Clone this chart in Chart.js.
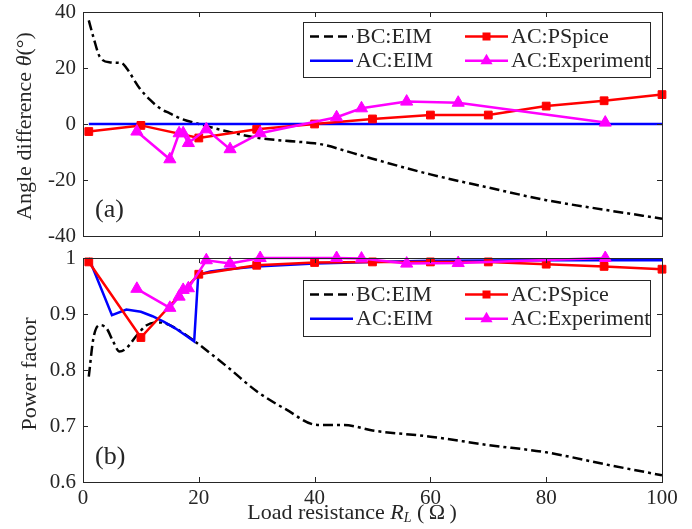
<!DOCTYPE html>
<html>
<head>
<meta charset="utf-8">
<script src="https://cdn.jsdelivr.net/npm/chart.js@4.4.0/dist/chart.umd.min.js"></script>
<style>
html, body { margin: 0; padding: 0; background: #fff; }
#wrap { position: relative; width: 692px; height: 529px; background: #fff; }
.box { position: absolute; left: 0; width: 692px; }
</style>
</head>
<body>
<div id="wrap">
  <div class="box" style="top:0;height:245px"><canvas id="chart_top"></canvas></div>
  <div class="box" style="top:245px;height:284px"><canvas id="chart_bot"></canvas></div>
</div>
<script>
// ---- data ----
var legend_labels = ['BC:EIM', 'AC:EIM', 'AC:PSpice', 'AC:Experiment'];
var x_ticks = [0, 20, 40, 60, 80, 100];

// (a) angle difference
var bc_x_top = [1, 1.8, 2.9, 4.7, 6.7, 7.5, 9.8, 11.6, 13.3, 15, 16.8, 20, 25, 30, 35, 40, 42, 45, 50, 60, 70, 80, 90, 100];
var bc_angle = [37, 31, 24, 22, 21.7, 20, 12.7, 8.6, 5.6, 3.8, 2, 0, -2.7, -4.9, -6, -6.9, -7.6, -9.4, -12.4, -18, -22.7, -27.2, -30.6, -33.8];
var ac_x_top = [1, 100];
var ac_angle = [0, 0];

// shared x for PSpice and experiment
var pspice_x = [1, 10, 20, 30, 40, 50, 60, 70, 80, 90, 100];
var pspice_angle = [-2.7, -0.5, -5, -1.9, 0, 1.8, 3.2, 3.2, 6.4, 8.3, 10.5];
var exp_x = [9.3, 15, 16.6, 17.3, 18.2, 21.3, 25.4, 30.6, 43.8, 48.1, 55.9, 64.8, 90.2];
var exp_angle = [-2.7, -12.6, -3.3, -3.3, -6.8, -1.9, -9, -3.3, 2.4, 5.6, 8, 7.6, 0.5];

// (b) power factor
var bc_x_bot = [1, 1.8, 2.9, 4.1, 5.2, 6.3, 7.5, 9.3, 11, 12.7, 14, 15, 17, 19.2, 25, 30, 35, 40.5, 45, 50, 60, 70, 80, 90, 100];
var bc_pf = [0.788, 0.857, 0.880, 0.874, 0.851, 0.833, 0.839, 0.862, 0.880, 0.885, 0.884, 0.880, 0.868, 0.852, 0.805, 0.762, 0.730, 0.702, 0.702, 0.692, 0.681, 0.666, 0.653, 0.632, 0.612];
var ac_x_bot = [1, 5, 7.5, 10, 12, 14, 16, 18, 19.2, 19.9, 22, 25, 30, 40, 50, 60, 80, 100];
var ac_pf = [1.0, 0.898, 0.908, 0.904, 0.896, 0.886, 0.874, 0.860, 0.851, 0.970, 0.976, 0.980, 0.985, 0.990, 0.993, 0.995, 0.996, 0.996];
var pspice_pf = [0.993, 0.858, 0.971, 0.987, 0.992, 0.993, 0.993, 0.993, 0.989, 0.985, 0.980];
var exp_pf = [0.945, 0.911, 0.931, 0.943, 0.946, 0.996, 0.990, 1.0, 1.0, 0.999, 0.990, 0.991, 1.0];

var SERIF = "'Liberation Serif', 'Times New Roman', serif";
var TXT = '#262626';

function pts(xs, ys) {
	return xs.map(function(x, i) { return {x: x, y: ys[i]}; });
}

function make_sets(bc, ac, ps, ex) {
	return [
		{ label: legend_labels[0], data: bc, borderColor: '#000', borderWidth: 2.5, borderDash: [10, 4, 3, 4],
		  pointRadius: 0, cubicInterpolationMode: 'monotone', order: 4 },
		{ label: legend_labels[1], data: ac, borderColor: '#0000ff', borderWidth: 2.5, pointRadius: 0, order: 3 },
		{ label: legend_labels[2], data: ps, borderColor: '#ff0000', backgroundColor: '#ff0000', borderWidth: 2.5,
		  pointStyle: 'rect', pointRadius: 5.5, pointBorderWidth: 1, order: 2 },
		{ label: legend_labels[3], data: ex, borderColor: '#ff00ff', backgroundColor: '#ff00ff', borderWidth: 2.5,
		  pointStyle: 'triangle', pointRadius: 7, pointBorderWidth: 1, order: 1 }
	];
}

function rich(ctx, parts, x, y) {
	var total = 0;
	parts.forEach(function(p) { ctx.font = p[1]; total += ctx.measureText(p[0]).width; });
	var cx = x - total / 2;
	parts.forEach(function(p) {
		ctx.font = p[1];
		ctx.fillText(p[0], cx, y + (p[2] || 0));
		cx += ctx.measureText(p[0]).width;
	});
}

// no extra label padding, so the plot box sits where the layout padding says
function fixY(s) { s.width = 83; s.paddingTop = 0; s.paddingBottom = 0; }
function fixX(h) {
	return function(s) { s.height = h; s.paddingLeft = 0; s.paddingRight = 0; };
}

// frame with inward ticks, legend box, panel tag and axis labels
var framePlugin = {
	id: 'frame',
	afterDraw: function(chart, args, o) {
		var ctx = chart.ctx, a = chart.chartArea;
		var xs = chart.scales.x, ys = chart.scales.y;
		ctx.save();
		ctx.strokeStyle = TXT;
		ctx.lineWidth = 1;
		ctx.strokeRect(Math.round(a.left) + 0.5, Math.round(a.top) + 0.5, Math.round(a.right - a.left), Math.round(a.bottom - a.top));
		ctx.beginPath();
		xs.ticks.forEach(function(t) {
			var px = Math.round(xs.getPixelForValue(t.value)) + 0.5;
			ctx.moveTo(px, a.bottom); ctx.lineTo(px, a.bottom - 5);
			ctx.moveTo(px, a.top); ctx.lineTo(px, a.top + 5);
		});
		ys.ticks.forEach(function(t) {
			var py = Math.round(ys.getPixelForValue(t.value)) + 0.5;
			ctx.moveTo(a.left, py); ctx.lineTo(a.left + 5, py);
			ctx.moveTo(a.right, py); ctx.lineTo(a.right - 5, py);
		});
		ctx.stroke();

		// legend
		var L = o.legend;
		ctx.fillStyle = '#fff';
		ctx.fillRect(L.left, L.top, L.w, L.h);
		ctx.strokeStyle = TXT;
		ctx.strokeRect(L.left + 0.5, L.top + 0.5, L.w, L.h);
		var sets = chart.data.datasets;
		var slots = [[0, 0], [0, 1], [1, 0], [1, 1]];
		sets.forEach(function(ds, i) {
			var col = slots[i][0], row = slots[i][1];
			var x0 = L.left + (col ? 162 : 7), x1 = x0 + 43;
			var y = L.top + (row ? 38.7 : 14.5);
			ctx.strokeStyle = ds.borderColor;
			ctx.lineWidth = 2.5;
			ctx.setLineDash(i === 0 ? [9, 5] : []);
			ctx.beginPath(); ctx.moveTo(x0, y); ctx.lineTo(x1, y); ctx.stroke();
			ctx.setLineDash([]);
			var mx = (x0 + x1) / 2;
			ctx.fillStyle = ds.borderColor;
			if (ds.pointStyle === 'rect') {
				ctx.fillRect(mx - 4, y - 4, 8, 8);
			} else if (ds.pointStyle === 'triangle') {
				ctx.beginPath();
				ctx.moveTo(mx, y - 7); ctx.lineTo(mx + 6.1, y + 3.5); ctx.lineTo(mx - 6.1, y + 3.5);
				ctx.closePath(); ctx.fill();
			}
			ctx.fillStyle = TXT;
			ctx.font = '22px ' + SERIF;
			ctx.textAlign = 'left';
			ctx.textBaseline = 'middle';
			ctx.fillText(ds.label, x1 + 3, y + 1);
		});

		// panel tag
		ctx.fillStyle = TXT;
		ctx.font = '26px ' + SERIF;
		ctx.textAlign = 'left';
		ctx.textBaseline = 'middle';
		ctx.fillText(o.panel, 95, o.panelY);

		// y label
		ctx.save();
		ctx.translate(o.ylabelPos[0], o.ylabelPos[1]);
		ctx.rotate(-Math.PI / 2);
		ctx.textAlign = 'left';
		ctx.textBaseline = 'middle';
		rich(ctx, o.ylabel, 0, 0);
		ctx.restore();

		// x label
		if (o.xlabel) {
			ctx.textAlign = 'left';
			ctx.textBaseline = 'middle';
			rich(ctx, o.xlabel, o.xlabelPos[0], o.xlabelPos[1]);
		}
		ctx.restore();
	}
};

function tick_font() { return { family: SERIF, size: 21, lineHeight: 1 }; }

// top chart: angle difference
new Chart(document.getElementById('chart_top').getContext('2d'), {
	type: 'line',
	data: { datasets: make_sets(pts(bc_x_top, bc_angle), pts(ac_x_top, ac_angle), pts(pspice_x, pspice_angle), pts(exp_x, exp_angle)) },
	plugins: [framePlugin],
	options: {
		responsive: true,
		maintainAspectRatio: false,
		animation: false,
		layout: { padding: { left: 0, right: 30, top: 12, bottom: 9 } },
		datasets: { line: { clip: false } },
		scales: {
			x: { type: 'linear', display: false, min: 0, max: 100,
			     afterBuildTicks: function(s) { s.ticks = x_ticks.map(function(v) { return {value: v}; }); } },
			y: { min: -40, max: 40,
			     ticks: { stepSize: 20, font: tick_font(), color: TXT, padding: 7 },
			     grid: { display: false, drawTicks: false, tickLength: 0 },
			     border: { display: false },
			     afterFit: fixY }
		},
		plugins: {
			legend: { display: false },
			tooltip: { enabled: false },
			frame: {
				legend: { left: 303, top: 22, w: 347, h: 55 },
				panel: '(a)', panelY: 210,
				ylabelPos: [25, 126],
				ylabel: [['Angle difference ', '22px ' + SERIF], ['\u03b8', 'italic 22px ' + SERIF], ['(\u00b0)', '22px ' + SERIF]]
			}
		}
	}
});

// bottom chart: power factor
new Chart(document.getElementById('chart_bot').getContext('2d'), {
	type: 'line',
	data: { datasets: make_sets(pts(bc_x_bot, bc_pf), pts(ac_x_bot, ac_pf), pts(pspice_x, pspice_pf), pts(exp_x, exp_pf)) },
	plugins: [framePlugin],
	options: {
		responsive: true,
		maintainAspectRatio: false,
		animation: false,
		layout: { padding: { left: 0, right: 30, top: 13, bottom: 0 } },
		datasets: { line: { clip: false } },
		scales: {
			x: { type: 'linear', min: 0, max: 100,
			     afterBuildTicks: function(s) { s.ticks = x_ticks.map(function(v) { return {value: v}; }); },
			     ticks: { font: tick_font(), color: TXT, padding: 6, maxRotation: 0, autoSkip: false },
			     grid: { display: false, drawTicks: false, tickLength: 0 },
			     border: { display: false },
			     afterFit: fixX(47) },
			y: { min: 0.6, max: 1,
			     ticks: { stepSize: 0.1, font: tick_font(), color: TXT, padding: 7,
			              callback: function(v) { return String(+v.toFixed(1)); } },
			     grid: { display: false, drawTicks: false, tickLength: 0 },
			     border: { display: false },
			     afterFit: fixY }
		},
		plugins: {
			legend: { display: false },
			tooltip: { enabled: false },
			frame: {
				legend: { left: 303, top: 35, w: 347, h: 56 },
				panel: '(b)', panelY: 212,
				ylabelPos: [30, 129],
				ylabel: [['Power factor', '22px ' + SERIF]],
				xlabelPos: [352, 268],
				xlabel: [['Load resistance ', '22px ' + SERIF], ['R', 'italic 22px ' + SERIF], ['L', 'italic 14px ' + SERIF, 5],
				         [' (\u2009\u03a9\u2009)', '22px ' + SERIF]]
			}
		}
	}
});
</script>
</body>
</html>
